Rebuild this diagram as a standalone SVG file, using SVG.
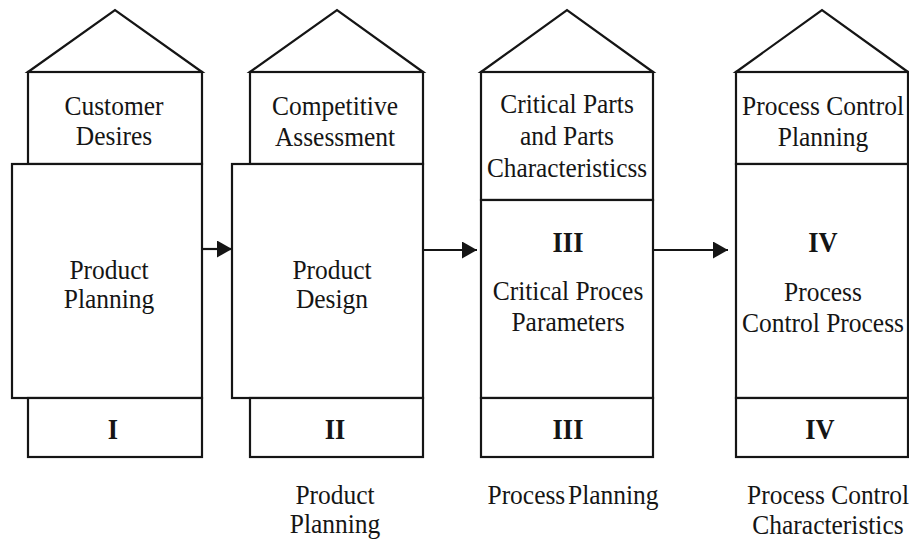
<svg xmlns="http://www.w3.org/2000/svg" width="909" height="540" viewBox="0 0 909 540">
  <style>
    .ln { fill: #ffffff; stroke: #151515; stroke-width: 2.2; stroke-linejoin: miter; }
    .t { font-family: "Liberation Serif", "Times New Roman", serif; font-size: 28px; fill: #151515; text-anchor: middle; }
    .n { font-family: "Liberation Serif", "Times New Roman", serif; font-size: 29px; font-weight: bold; fill: #151515; text-anchor: middle; }
    .conn { stroke: #151515; stroke-width: 2.2; fill: none; }
  </style>
  <defs>
    <marker id="head" markerWidth="15" markerHeight="17" refX="15" refY="8.5" orient="auto" markerUnits="userSpaceOnUse">
      <path d="M0,0 L15,8.5 L0,17 Z" fill="#151515"/>
    </marker>
  </defs>
  <rect width="909" height="540" fill="#ffffff"/>

  <!-- House I: product planning -->
  <g id="house-1">
    <polygon class="ln" points="28,72 115,10 202,72"/>
    <rect class="ln" x="28" y="72" width="174" height="92"/>
    <rect class="ln" x="12" y="164" width="190" height="234"/>
    <rect class="ln" x="28" y="398" width="174" height="59"/>
    <g transform="translate(114 0) scale(0.91 1)">
      <text class="t" x="0" y="115">Customer</text>
      <text class="t" x="0" y="145">Desires</text>
    </g>
    <g transform="translate(109 0) scale(0.91 1)">
      <text class="t" x="0" y="279">Product</text>
      <text class="t" x="0" y="308">Planning</text>
    </g>
    <g transform="translate(113 0) scale(0.91 1)">
      <text class="n" x="0" y="439">I</text>
    </g>
  </g>

  <!-- House II: product design -->
  <g id="house-2">
    <polygon class="ln" points="250,72 337,10 423,72"/>
    <rect class="ln" x="250" y="72" width="173" height="92"/>
    <rect class="ln" x="232" y="164" width="191" height="234"/>
    <rect class="ln" x="250" y="398" width="173" height="59"/>
    <g transform="translate(335 0) scale(0.91 1)">
      <text class="t" x="0" y="115">Competitive</text>
      <text class="t" x="0" y="146">Assessment</text>
    </g>
    <g transform="translate(332 0) scale(0.91 1)">
      <text class="t" x="0" y="279">Product</text>
      <text class="t" x="0" y="308">Design</text>
    </g>
    <g transform="translate(335 0) scale(0.91 1)">
      <text class="n" x="0" y="439">II</text>
    </g>
    <g transform="translate(335 0) scale(0.91 1)">
      <text class="t" x="0" y="504">Product</text>
      <text class="t" x="0" y="533">Planning</text>
    </g>
  </g>

  <!-- House III: process planning -->
  <g id="house-3">
    <polygon class="ln" points="481,72 567,10 653,72"/>
    <rect class="ln" x="481" y="72" width="172" height="128"/>
    <rect class="ln" x="481" y="200" width="172" height="198"/>
    <rect class="ln" x="481" y="398" width="172" height="59"/>
    <g transform="translate(567 0) scale(0.91 1)">
      <text class="t" x="0" y="113">Critical Parts</text>
      <text class="t" x="0" y="145">and Parts</text>
      <text class="t" x="0" y="177" textLength="176" lengthAdjust="spacingAndGlyphs">Characteristicss</text>
    </g>
    <g transform="translate(568 0) scale(0.91 1)">
      <text class="n" x="0" y="252">III</text>
      <text class="t" x="0" y="300">Critical Proces</text>
      <text class="t" x="0" y="331">Parameters</text>
    </g>
    <g transform="translate(568 0) scale(0.91 1)">
      <text class="n" x="0" y="439">III</text>
    </g>
    <g transform="translate(573 0) scale(0.91 1)">
      <text class="t" x="0" y="504" word-spacing="-4">Process Planning</text>
    </g>
  </g>

  <!-- House IV: process control -->
  <g id="house-4">
    <polygon class="ln" points="736,72 822,10 908,72"/>
    <rect class="ln" x="736" y="72" width="172" height="92"/>
    <rect class="ln" x="736" y="164" width="172" height="234"/>
    <rect class="ln" x="736" y="398" width="172" height="59"/>
    <g transform="translate(823 0) scale(0.91 1)">
      <text class="t" x="0" y="115">Process Control</text>
      <text class="t" x="0" y="146">Planning</text>
    </g>
    <g transform="translate(823 0) scale(0.91 1)">
      <text class="n" x="0" y="252">IV</text>
      <text class="t" x="0" y="301">Process</text>
      <text class="t" x="0" y="332">Control Process</text>
    </g>
    <g transform="translate(820 0) scale(0.91 1)">
      <text class="n" x="0" y="439">IV</text>
    </g>
    <g transform="translate(828 0) scale(0.91 1)">
      <text class="t" x="0" y="504">Process Control</text>
      <text class="t" x="0" y="534">Characteristics</text>
    </g>
  </g>

  <!-- Flow between the houses -->
  <g id="connectors">
    <line class="conn" x1="202" y1="249" x2="232" y2="249" marker-end="url(#head)"/>
    <line class="conn" x1="423" y1="250" x2="477" y2="250" marker-end="url(#head)"/>
    <line class="conn" x1="653" y1="250" x2="728" y2="250" marker-end="url(#head)"/>
  </g>
</svg>
